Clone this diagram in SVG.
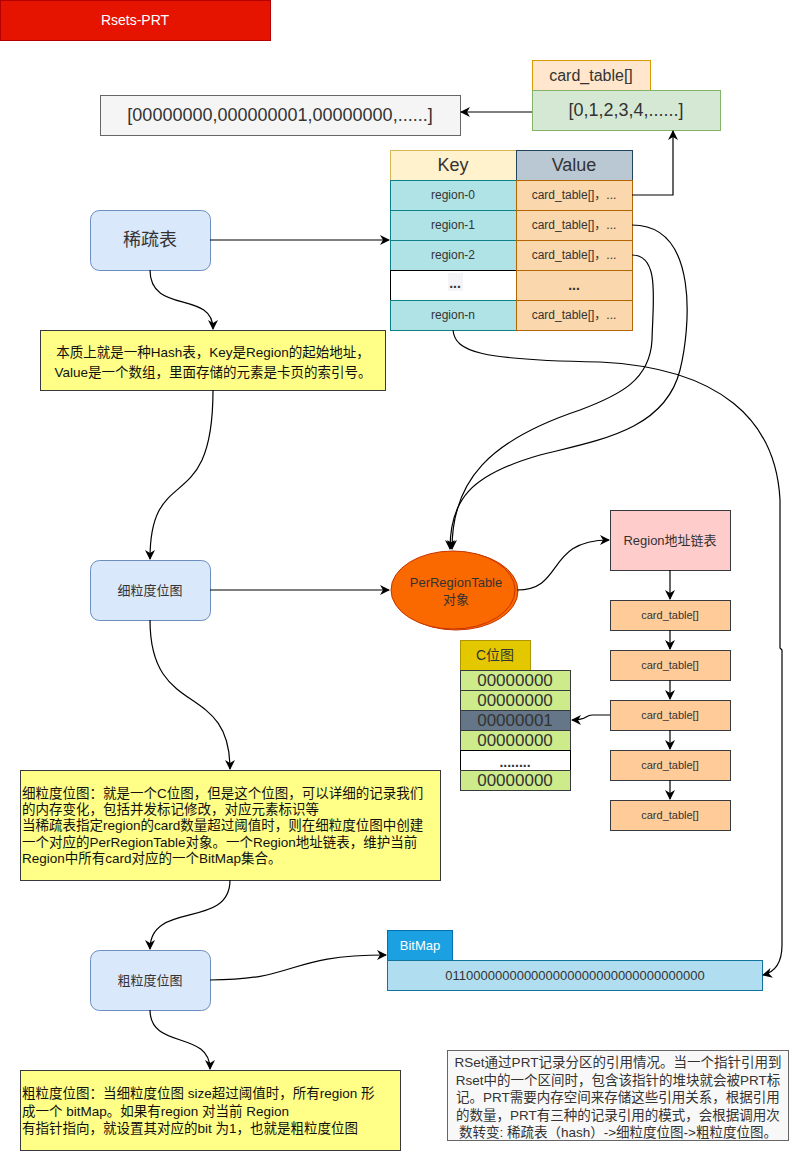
<svg xmlns="http://www.w3.org/2000/svg" width="798" height="1151" viewBox="0 0 798 1151">
<defs>
<marker id="arr" viewBox="0 0 10 10" refX="9" refY="5" markerWidth="10" markerHeight="10" markerUnits="userSpaceOnUse" orient="auto">
<path d="M0,0 L10,5 L0,10 L3,5 z" fill="#000"/>
</marker>
<style>
text{font-family:"Liberation Sans","Noto Sans CJK SC",sans-serif;fill:#333;}
.c{text-anchor:middle;dominant-baseline:central;}
.conn{fill:none;stroke:#000;stroke-width:1.2;marker-end:url(#arr);}
.blue{fill:#dae8fc;stroke:#6c8ebf;stroke-width:1;}
.nbox{fill:#ffff88;stroke:#36393d;stroke-width:1;}
.nt{fill:#111;font-size:13.5px;dominant-baseline:central;}
.key{fill:#b0e3e6;stroke:#0e8088;}
.val{fill:#fad7ac;stroke:#b46504;}
.ct{fill:#ffcc99;stroke:#36393d;}
.cb{fill:#cdeb8b;stroke:#36393d;}
</style>
</defs>

<g id="title">
<rect x="0.5" y="0.5" width="270" height="40" fill="#e51400" stroke="#b20000"/>
<text class="c" x="135" y="20" font-size="14" style="fill:#fff">Rsets-PRT</text>
</g>

<g id="bitArray">
<rect x="100.5" y="95.5" width="360" height="40" fill="#f5f5f5" stroke="#666"/>
<text class="c" x="280" y="115" font-size="18">[00000000,000000001,00000000,......]</text>
</g>

<g id="cardTable">
<rect x="532.5" y="60.5" width="118" height="30" fill="#ffe6cc" stroke="#d79b00"/>
<text class="c" x="591" y="75" font-size="16">card_table[]</text>
<rect x="532.5" y="90.5" width="188" height="40" fill="#d5e8d4" stroke="#82b366"/>
<text class="c" x="626" y="110" font-size="18">[0,1,2,3,4,......]</text>
</g>

<g id="hashTable">
<rect x="390.5" y="150.5" width="126" height="30" fill="#fff2cc" stroke="#d6b656"/>
<text class="c" x="453" y="165" font-size="18">Key</text>
<rect x="516.5" y="150.5" width="116" height="30" fill="#bac8d3" stroke="#23445d"/>
<text class="c" x="574" y="165" font-size="18">Value</text>
<rect class="key" x="390.5" y="180.5" width="126" height="30"/>
<text class="c" x="453" y="195" font-size="12">region-0</text>
<rect class="val" x="516.5" y="180.5" width="116" height="30"/>
<text class="c" x="574" y="195" font-size="12">card_table[]，...</text>
<rect class="key" x="390.5" y="210.5" width="126" height="30"/>
<text class="c" x="453" y="225" font-size="12">region-1</text>
<rect class="val" x="516.5" y="210.5" width="116" height="30"/>
<text class="c" x="574" y="225" font-size="12">card_table[]，...</text>
<rect class="key" x="390.5" y="240.5" width="126" height="30"/>
<text class="c" x="453" y="255" font-size="12">region-2</text>
<rect class="val" x="516.5" y="240.5" width="116" height="30"/>
<text class="c" x="574" y="255" font-size="12">card_table[]，...</text>
<rect x="390.5" y="270.5" width="126" height="30" fill="#fff" stroke="#000"/>
<rect x="448" y="273" width="15" height="18" fill="#f4f4f6"/>
<text class="c" x="455" y="283" font-size="14" font-weight="bold">...</text>
<rect class="val" x="516.5" y="270.5" width="116" height="30"/>
<text class="c" x="574" y="285" font-size="14" font-weight="bold">...</text>
<rect class="key" x="390.5" y="300.5" width="126" height="30"/>
<text class="c" x="453" y="315" font-size="12">region-n</text>
<rect class="val" x="516.5" y="300.5" width="116" height="30"/>
<text class="c" x="574" y="315" font-size="12">card_table[]，...</text>
</g>

<g id="sparse">
<rect class="blue" x="90.5" y="210.5" width="120" height="60" rx="9"/>
<text class="c" x="150" y="240" font-size="18">稀疏表</text>
</g>

<g id="note1">
<rect class="nbox" x="40.5" y="330.5" width="345" height="60"/>
<text class="nt" x="213" y="352" text-anchor="middle">本质上就是一种Hash表，Key是Region的起始地址，</text>
<text class="nt" x="213" y="372" text-anchor="middle">Value是一个数组，里面存储的元素是卡页的索引号。</text>
</g>

<g id="fine">
<rect class="blue" x="90.5" y="560.5" width="120" height="60" rx="9"/>
<text class="c" x="150" y="590" font-size="13">细粒度位图</text>
</g>

<g id="prt">
<ellipse cx="456" cy="591" rx="62" ry="39" fill="#fa6800" stroke="#c73500"/>
<ellipse cx="453" cy="590" rx="62" ry="39" fill="#fa6800" stroke="#c73500"/>
<text class="c" x="456" y="582" font-size="13">PerRegionTable</text>
<text class="c" x="456" y="599" font-size="13">对象</text>
</g>

<g id="regionList">
<rect x="610.5" y="510.5" width="120" height="60" fill="#ffcccc" stroke="#36393d"/>
<text class="c" x="670" y="540" font-size="13">Region地址链表</text>
</g>

<g id="cards">
<rect class="ct" x="610.5" y="600.5" width="120" height="30"/>
<text class="c" x="670" y="615" font-size="11">card_table[]</text>
<rect class="ct" x="610.5" y="650.5" width="120" height="30"/>
<text class="c" x="670" y="665" font-size="11">card_table[]</text>
<rect class="ct" x="610.5" y="700.5" width="120" height="30"/>
<text class="c" x="670" y="715" font-size="11">card_table[]</text>
<rect class="ct" x="610.5" y="750.5" width="120" height="30"/>
<text class="c" x="670" y="765" font-size="11">card_table[]</text>
<rect class="ct" x="610.5" y="800.5" width="120" height="30"/>
<text class="c" x="670" y="815" font-size="11">card_table[]</text>
</g>

<g id="cbitmap">
<rect x="460.5" y="640.5" width="70" height="30" fill="#e3c800" stroke="#b09500"/>
<text class="c" x="495" y="655" font-size="14">C位图</text>
<rect class="cb" x="460.5" y="670.5" width="110" height="20"/>
<text class="c" x="515" y="680" font-size="17">00000000</text>
<rect class="cb" x="460.5" y="690.5" width="110" height="20"/>
<text class="c" x="515" y="700" font-size="17">00000000</text>
<rect x="460.5" y="710.5" width="110" height="20" fill="#647687" stroke="#36393d"/>
<text class="c" x="515" y="720" font-size="17">00000001</text>
<rect class="cb" x="460.5" y="730.5" width="110" height="20"/>
<text class="c" x="515" y="740" font-size="17">00000000</text>
<rect x="460.5" y="750.5" width="110" height="20" fill="#fff" stroke="#000"/>
<text class="c" x="515" y="762" font-size="14" font-weight="bold">........</text>
<rect class="cb" x="460.5" y="770.5" width="110" height="20"/>
<text class="c" x="515" y="780" font-size="17">00000000</text>
</g>

<g id="note2">
<rect class="nbox" x="20.5" y="770.5" width="420" height="110"/>
<text class="nt" x="22" y="793">细粒度位图：就是一个C位图，但是这个位图，可以详细的记录我们</text>
<text class="nt" x="22" y="809">的内存变化，包括并发标记修改，对应元素标识等</text>
<text class="nt" x="22" y="825">当稀疏表指定region的card数量超过阈值时，则在细粒度位图中创建</text>
<text class="nt" x="22" y="842">一个对应的PerRegionTable对象。一个Region地址链表，维护当前</text>
<text class="nt" x="22" y="858">Region中所有card对应的一个BitMap集合。</text>
</g>

<g id="coarse">
<rect class="blue" x="90.5" y="950.5" width="120" height="60" rx="9"/>
<text class="c" x="150" y="980" font-size="13">粗粒度位图</text>
</g>

<g id="bitmap">
<rect x="387.5" y="930.5" width="65" height="30" fill="#1ba1e2" stroke="#006eaf"/>
<text class="c" x="420" y="945" font-size="13" style="fill:#fff">BitMap</text>
<rect x="387.5" y="960.5" width="375" height="30" fill="#b1ddf0" stroke="#10739e"/>
<text class="c" x="575" y="975" font-size="13">011000000000000000000000000000000000</text>
</g>

<g id="note3">
<rect class="nbox" x="20.5" y="1070.5" width="380" height="80"/>
<text class="nt" x="22" y="1093">粗粒度位图：当细粒度位图 size超过阈值时，所有region 形</text>
<text class="nt" x="22" y="1111">成一个 bitMap。如果有region 对当前 Region</text>
<text class="nt" x="22" y="1128">有指针指向，就设置其对应的bit 为1，也就是粗粒度位图</text>
</g>

<g id="note4">
<rect x="447.5" y="1050.5" width="341" height="90" fill="#f8f8f8" stroke="#666"/>
<text x="618" y="1062" font-size="13.5" text-anchor="middle" dominant-baseline="central">RSet通过PRT记录分区的引用情况。当一个指针引用到</text>
<text x="618" y="1080" font-size="13.5" text-anchor="middle" dominant-baseline="central">Rset中的一个区间时，包含该指针的堆块就会被PRT标</text>
<text x="618" y="1097" font-size="13.5" text-anchor="middle" dominant-baseline="central">记。PRT需要内存空间来存储这些引用关系，根据引用</text>
<text x="618" y="1115" font-size="13.5" text-anchor="middle" dominant-baseline="central">的数量，PRT有三种的记录引用的模式，会根据调用次</text>
<text x="618" y="1132" font-size="13.5" text-anchor="middle" dominant-baseline="central">数转变: 稀疏表（hash）-&gt;细粒度位图-&gt;粗粒度位图。</text>
</g>

<g id="connectors">
<path class="conn" d="M532,112 L461,112"/>
<path class="conn" d="M632,195 L673,195 L673,131"/>
<path class="conn" d="M210,240 L389,240"/>
<path class="conn" d="M632,225 C700,225 690,330 680,370 C665,430 600,440 540,455 C470,475 450,500 450,549"/>
<path class="conn" d="M632,255 C660,255 653,300 652,340 C650,380 620,395 580,410 C490,440 452,480 452,549"/>
<path class="conn" d="M453,330 C455,352 480,360 600,362 C720,368 776,420 780,500 L780,648 L782,650 L782,945 C782,962 775,972 763,975"/>
<path class="conn" d="M150,270 C150,315 213,290 213,329"/>
<path class="conn" d="M213,390 C213,520 150,460 150,559"/>
<path class="conn" d="M210,590 L389,590"/>
<path class="conn" d="M517,590 C565,590 545,540 609,540"/>
<path class="conn" d="M670,570 L670,599"/>
<path class="conn" d="M670,630 L670,649"/>
<path class="conn" d="M670,680 L670,699"/>
<path class="conn" d="M670,730 L670,749"/>
<path class="conn" d="M670,780 L670,799"/>
<path class="conn" d="M610,715 L592,715 C585,715 588,720 572,720"/>
<path class="conn" d="M150,620 C150,720 230,680 230,769"/>
<path class="conn" d="M230,880 C230,930 150,900 150,949"/>
<path class="conn" d="M210,980 C300,980 285,955 386,955"/>
<path class="conn" d="M150,1010 C150,1050 210,1030 210,1069"/>
</g>
</svg>
